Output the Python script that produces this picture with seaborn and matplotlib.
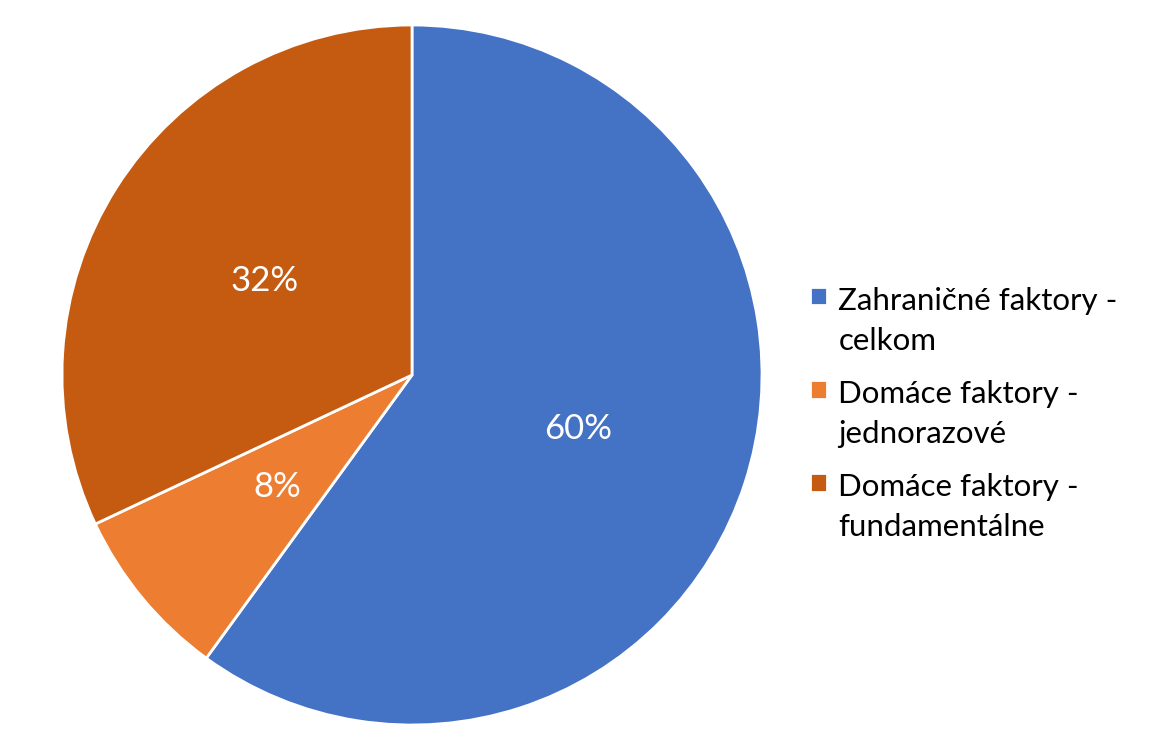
import matplotlib.pyplot as plt
import seaborn as sns

# podiely faktorov
kategorie = ['Zahraničné faktory -\ncelkom', 'Domáce faktory -\njednorazové', 'Domáce faktory -\nfundamentálne']
hodnoty = [60, 8, 32]
farby = ['#4472C4', '#ED7D31', '#C55A11']

sns.set_style('white')
plt.rcParams['font.family'] = ['Lato', 'DejaVu Sans']

fig = plt.figure(figsize=(11.59, 7.5), dpi=100)
ax = fig.add_axes([62 / 1159, 25 / 750, 700 / 1159, 700 / 750])

wedges, texts, autotexts = ax.pie(
    hodnoty, colors=farby, startangle=90, counterclock=False,
    autopct='%1.0f%%', pctdistance=0.5,
    wedgeprops={'edgecolor': 'white', 'linewidth': 2},
    textprops={'color': 'white', 'fontsize': 25},
)
ax.set_xlim(-1, 1)
ax.set_ylim(-1, 1)
ax.set_aspect('equal')

leg = fig.legend(wedges, kategorie, loc='center left', bbox_to_anchor=(782 / 1159, 0.448),
                 frameon=False, fontsize=22.5, handlelength=0.55, handleheight=0.55,
                 handletextpad=0.35, labelspacing=0.78)
for t in leg.get_texts():
    t.set_linespacing(1.55)
    t.set_color('black')
# stvorcek zarovnat s prvym riadkom
for col in leg._legend_handle_box.get_children():
    for riadok in col.get_children():
        riadok.align = 'top'

plt.savefig('out.png', dpi=100)
